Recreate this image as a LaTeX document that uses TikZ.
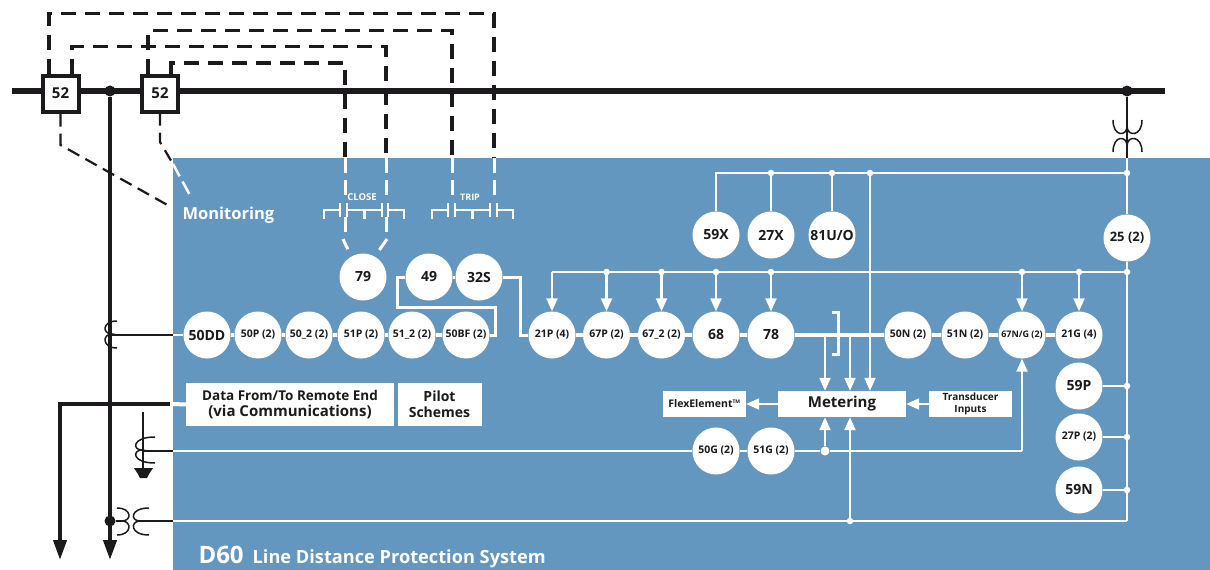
\documentclass[tikz,border=0pt]{standalone}
\usepackage{fontspec}
\setmainfont{Open Sans}
\usetikzlibrary{arrows.meta}
\definecolor{panelblue}{HTML}{6497C0}
\definecolor{inkblack}{HTML}{1C1A1C}
\tikzset{
    relay/.style={circle,fill=white,minimum size=47pt,inner sep=0pt,text=inkblack,font=\fontsize{14}{14}\selectfont\bfseries},
    relaysm/.style={relay,font=\fontsize{10.5}{11}\selectfont\bfseries},
    whitebox/.style={fill=white,inner sep=0pt,text=inkblack,align=center},
    brk/.style={draw=inkblack,line width=4pt,fill=white,minimum size=36pt,inner sep=0pt,text=inkblack,font=\fontsize{15}{15}\selectfont\bfseries},
    wdot/.style={circle,fill=white,minimum size=6.5pt,inner sep=0pt},
    bdot/.style={circle,fill=inkblack,minimum size=11pt,inner sep=0pt},
    wline/.style={draw=white,line width=2.2pt},
    rowline/.style={draw=white,line width=4pt},
    warrow/.style={wline,-{Triangle[width=11pt,length=13pt]}},
    coil/.style={draw=inkblack,line width=1.5pt},
    bline/.style={draw=inkblack,line width=1.5pt},
    bus/.style={draw=inkblack,line width=5.5pt},
    bdash/.style={draw=inkblack,line width=3.2pt,dash pattern=on 15pt off 9pt},
    wdash/.style={draw=white,line width=3pt,dash pattern=on 15pt off 7pt},
    contact/.style={draw=white,line width=2pt},
    panel/.style={text=white,font=\bfseries}
}
\begin{document}
\begin{tikzpicture}[x=1pt,y=-1pt]
    \useasboundingbox (0,0) rectangle (1210,570);
    \fill[panelblue] (173,158) rectangle (1210,570); %panel
    %bus and breakers
    \coordinate (busw) at (12,91);
    \coordinate (buse) at (1165,91);
    \draw[bus] (busw) -- (buse);
    \node[brk] (brka) at (60.5,93.5) {52};
    \node[brk] (brkb) at (160,93.5) {52};
    \node[bdot] (busa) at (110,91) {};
    \node[bdot] (busb) at (1127,91) {};
    %relays
    \foreach \name/\x/\y/\txt in {dd/207/335/50DD,rv/716/235/59X,rw/771/235/27X,rf/832/235/{81U/O},
        ra/363/277/79,rb/429/277/49,rc/479/277/32S,rh/716/335/68,rk/771/335/78,
        vp/1079/386/59P,vn/1079/490/59N}
    \node[relay] (\name) at (\x,\y) {\txt};
    \foreach \name/\x/\y/\txt in {pa/258/335/50P (2),pb/309/335/50\_2 (2),pc/361/335/51P (2),pd/412/335/51\_2 (2),
        pe/466/335/50BF (2),qa/552/335/21P (4),qb/606.5/335/67P (2),qc/661.5/335/67\_2 (2),
        na/908/335/50N (2),nb/965/335/51N (2),nd/1079/335/21G (4),
        ga/716/451/50G (2),gb/771/451/51G (2),vu/1079/437/27P (2)}
    \node[relaysm] (\name) at (\x,\y) {\txt};
    \node[relaysm,font=\fontsize{9}{10}\selectfont\bfseries] (nc) at (1022,335) {67N/G (2)};
    \node[relaysm,font=\fontsize{13}{14}\selectfont\bfseries] (sy) at (1127,238) {25 (2)};
    \foreach \a/\b in {pa/pb,pb/pc,pc/pd,pd/pe,dd/pa,qa/qb,qb/qc,qc/rh,rh/rk,na/nb,nb/nc,nc/nd}
    \draw[rowline] (\a) -- (\b);
    %boxes
    \node[whitebox,minimum width=208pt,minimum height=43pt,font=\fontsize{13.5}{16}\selectfont\bfseries] (data) at (290,404.5) {Data From/To Remote End\\{\fontsize{15}{16}\selectfont (via Communications)}};
    \node[whitebox,minimum width=84pt,minimum height=43pt,font=\fontsize{14}{16}\selectfont\bfseries] (pilot) at (439.5,404.5) {Pilot\\Schemes};
    \node[whitebox,minimum width=128pt,minimum height=26pt,font=\fontsize{15}{15}\selectfont\bfseries] (meter) at (842,404) {Metering};
    \node[whitebox,minimum width=83pt,minimum height=26pt,font=\fontsize{10.5}{10}\selectfont\bfseries] (flex) at (704.5,404) {FlexElement\textsuperscript{\tiny TM}};
    \node[whitebox,minimum width=83pt,minimum height=26pt,font=\fontsize{10}{12}\selectfont\bfseries] (trans) at (970.5,404) {Transducer\\Inputs};
    %dashed control wiring
    \coordinate (cla) at (345,158);
    \coordinate (clb) at (386,158);
    \coordinate (tra) at (452,158);
    \coordinate (trb) at (494,158);
    \draw[bdash] ([xshift=-11.5pt]brka.north) -- ++(0,-60) -| (trb);
    \draw[bdash] ([xshift=-12pt]brkb.north) -- ++(0,-43) -| (tra);
    \draw[bdash] ([xshift=11.5pt]brka.north) -- ++(0,-27) -| (clb);
    \draw[bdash,line width=4pt] ([xshift=11pt]brkb.north) -- ++(0,-11) -| (cla);
    \foreach \c in {cla,clb,tra,trb}
    \draw[wdash] (\c) -- ++(0,39);
    \draw[wdash] (345,217) -- (345,232);
    \draw[wdash] (386,217) -- (386,232);
    \draw[white,line width=3pt,shorten >=8pt] (343,239) -- (ra.120);
    \draw[white,line width=3pt,shorten >=8pt] (387,239) -- (ra.60);
    \node[panel,font=\fontsize{9.5}{9}\selectfont\bfseries] (closetxt) at (362,197) {CLOSE};
    \node[panel,font=\fontsize{9}{9}\selectfont\bfseries] (triptxt) at (470,197) {TRIP};
    %contacts
    \foreach \x in {324,432}
    \draw[contact] (\x,219) |- (\x+16,210) ++(0,-7) -- ++(0,14);
    \foreach \x in {347,455}
    \draw[contact] (\x,203) -- ++(0,14) ++(0,-7) -| (\x+17,219);
    \foreach \x in {365,473}
    \draw[contact] (\x,219) |- (\x+17,210) ++(0,-7) -- ++(0,14);
    \foreach \x in {388,497}
    \draw[contact] (\x,203) -- ++(0,14) ++(0,-7) -| (\x+16,219);
    %monitoring
    \node[panel,font=\fontsize{16.5}{16}\selectfont\bfseries,anchor=west] (mon) at (179,215) {Monitoring};
    \draw[bline,line width=2.2pt,dash pattern=on 13pt off 7pt] (brka.south) -- (60.5,145) -- (171,207);
    \draw[bline,line width=2.2pt,dash pattern=on 12pt off 7pt] (brkb.south) -- (160,142) -- (173,164);
    \draw[white,line width=2.5pt,dash pattern=on 14pt off 6pt] (173,164) -- (192,199);
    %line side
    \coordinate (arra) at (110,560);
    \coordinate (arrb) at (60,560);
    \draw[bus,line width=4pt,-{Triangle[width=13pt,length=20pt]}] (busa) -- (arra);
    \coordinate (comm) at (170,404);
    \draw[bus,line width=4pt,-{Triangle[width=13pt,length=20pt]}] (comm) -| (arrb);
    \draw[rowline] (173,404) -- (data.west);
    %current transformers
    \draw[coil] (117,321) .. controls (102,321) and (102,334) .. (112,334) .. controls (102,334) and (102,348) .. (117,348);
    \coordinate (cte) at (173,335);
    \coordinate (gte) at (173,451);
    \coordinate (vte) at (173,521);
    \draw[bline] (busa |- cte) -- (cte);
    \draw[rowline,line width=2.5pt] (cte) -- (dd);
    \draw[coil] (155,437) .. controls (132,437) and (132,450) .. (142,450) .. controls (132,450) and (132,463) .. (155,463);
    \draw[bline] (143,412) -- (143,468);
    \draw[bline] (143,451) -- (gte);
    \fill[inkblack] (134,468) -- (153,468) -- (149,474) -- (147,478) -- (140,478) -- (138,474) -- cycle;
    \node[bdot] (busc) at (110,521) {};
    \draw[coil] (117,508) .. controls (132,508) and (132,521) .. (122,521) .. controls (132,521) and (132,535) .. (117,535);
    \draw[coil] (149,508) .. controls (130,508) and (130,521) .. (140,521) .. controls (130,521) and (130,535) .. (149,535);
    \draw[bline] (busc) -- (122,521);
    \draw[bline] (140,521) -- (vte);
    %sync vt
    \coordinate (syt) at (1127,158);
    \draw[bline] (busb) -- (syt);
    \draw[coil] (1113,120) .. controls (1113,137) and (1127,137) .. (1127,126) .. controls (1127,137) and (1142,137) .. (1142,120);
    \draw[coil] (1113,152) .. controls (1113,135) and (1127,135) .. (1127,146) .. controls (1127,135) and (1142,135) .. (1142,152);
    %white wiring
    \node[wdot] (ja) at (1127,173) {};
    \node[wdot] (jb) at (1127,272) {};
    \node[wdot] (jc) at (vp -| ja) {};
    \node[wdot] (jd) at (vu -| ja) {};
    \node[wdot] (je) at (vn -| ja) {};
    \node[wdot] (jf) at (771,173) {};
    \node[wdot] (jg) at (832,173) {};
    \node[wdot] (jh) at (870,173) {};
    \coordinate (jcor) at (1127,521);
    \draw[wline] (syt) -- (sy);
    \draw[wline] (sy) -- (jcor);
    \draw[wline] (jcor) -- (vte);
    \draw[wline] (ja) -- (rv.north |- ja) -- (rv);
    \draw[wline] (jf) -- (rw);
    \draw[wline] (jg) -- (rf);
    \draw[warrow] (jh) -- (jh |- meter.north);
    \foreach \v in {vp,vu,vn}
    \draw[wline] (\v) -- (\v -| ja);
    %voltage bus
    \foreach \name/\rel in {kb/qb,kc/qc,kd/rh,ke/rk,kf/nc,kg/nd}
    {\node[wdot] (\name) at (\rel |- jb) {};
    \draw[warrow] (\name) -- (\rel.north);}
    \draw[wline] (jb) -- (qa |- jb) ;
    \draw[warrow] (qa |- jb) -- (qa.north);
    %row feeds
    \coordinate (elb) at (520,277);
    \draw[rowline,line width=3pt] (rc) -| (elb |- qa) -- (qa);
    \draw[rowline,line width=3pt] (rb) -- (rc);
    \coordinate (lpa) at (397,307);
    \coordinate (lpb) at (495,307);
    \draw[rowline,line width=3pt] (rb) -| (lpa) -- (lpb) -- (lpb |- pe);
    \draw[rowline,line width=3pt] (pe) -- (497,335);
    \draw[rowline] (rk) -- (na);
    \draw[white,line width=3pt] (832,312) -- (838,312) -- (838,354) -- (832,354); %bracket
    %metering arrows
    \coordinate (ma) at (825,335);
    \coordinate (mb) at (850,335);
    \draw[warrow] (ma) -- (ma |- meter.north);
    \draw[warrow] (mb) -- (mb |- meter.north);
    \draw[warrow] (meter) -- (flex);
    \draw[warrow] (trans) -- (meter);
    \node[wdot,minimum size=9pt] (gj) at (825,451) {};
    \draw[warrow] (gj) -- (gj |- meter.south);
    \node[wdot] (vj) at (850,521) {};
    \draw[warrow] (vj) -- (vj |- meter.south);
    %ground line
    \draw[wline] (gte) -- (ga);
    \draw[rowline,line width=2.5pt] (ga) -- (gb);
    \draw[wline] (gb) -- (gj);
    \draw[wline] (gj) -| (nc |- gj);
    \draw[warrow] (nc |- gj) -- (nc.south);
    \node[panel,anchor=base west] (title) at (195,563) {{\fontsize{24}{21}\selectfont D60}\hspace{9pt}{\fontsize{18.2}{16}\selectfont Line Distance Protection System}};
\end{tikzpicture}
\end{document}
